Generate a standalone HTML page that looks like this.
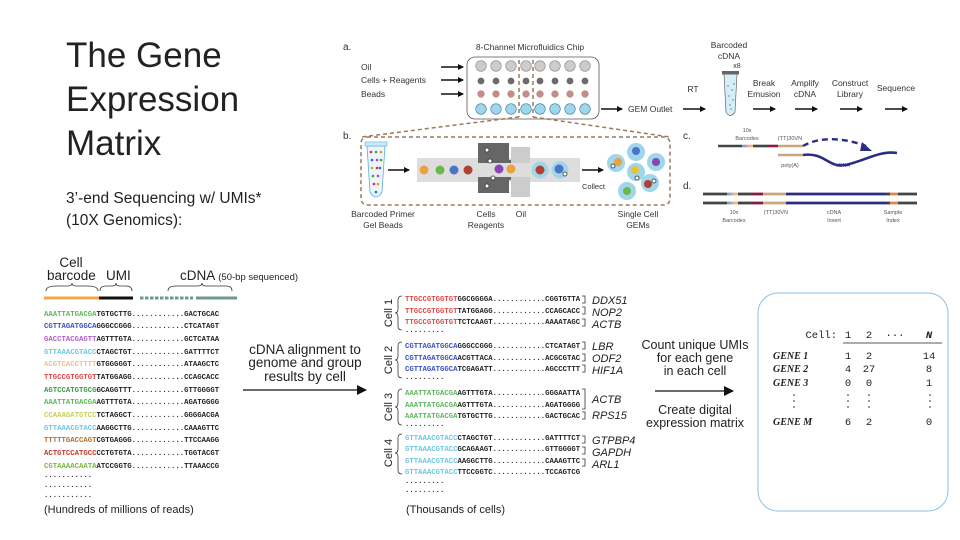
<!DOCTYPE html>
<html><head><meta charset="utf-8"><style>
html,body{margin:0;padding:0;background:#fff;}
svg{display:block;}
.s{font-family:"Liberation Sans",sans-serif;}
.m{font-family:"Liberation Mono",monospace;font-weight:bold;font-size:7.3px;}
.g{font-family:"Liberation Serif",serif;font-weight:bold;font-style:italic;font-size:10px;}
.mm{font-family:"Liberation Mono",monospace;font-size:10.5px;}
</style></head><body>
<svg width="960" height="540" viewBox="0 0 960 540" xmlns="http://www.w3.org/2000/svg">
<defs>
<marker id="ah" markerWidth="6" markerHeight="6" refX="5" refY="3" orient="auto" markerUnits="userSpaceOnUse"><path d="M0,0 L6,3 L0,6z" fill="#111"/></marker>
<marker id="ab" markerWidth="10" markerHeight="10" refX="9" refY="5" orient="auto" markerUnits="userSpaceOnUse"><path d="M0,0 L10,5 L0,10z" fill="#111"/></marker>
</defs>
<g class="s" fill="#222">
<text x="66" y="67" font-size="35">The Gene</text>
<text x="66" y="111" font-size="35">Expression</text>
<text x="66" y="155" font-size="35">Matrix</text>
<text x="66" y="203" font-size="15.5">3’-end Sequencing w/ UMIs*</text>
<text x="66" y="225" font-size="15.5">(10X Genomics):</text>
</g>

<!-- panel a -->
<g class="s" fill="#333" font-size="8.5">
<text x="343" y="50" font-size="10">a.</text>
<text x="530" y="50" text-anchor="middle">8-Channel Microfluidics Chip</text>
<text x="361" y="70">Oil</text>
<text x="361" y="83">Cells + Reagents</text>
<text x="361" y="97">Beads</text>
<text x="628" y="112">GEM Outlet</text>
<text x="693" y="92" text-anchor="middle">RT</text>
<text x="729" y="48" text-anchor="middle">Barcoded</text>
<text x="729" y="59" text-anchor="middle">cDNA</text>
<text x="737" y="68" text-anchor="middle" font-size="7">x8</text>
<text x="764" y="86" text-anchor="middle">Break</text>
<text x="764" y="97" text-anchor="middle">Emusion</text>
<text x="805" y="86" text-anchor="middle">Amplify</text>
<text x="805" y="97" text-anchor="middle">cDNA</text>
<text x="850" y="86" text-anchor="middle">Construct</text>
<text x="850" y="97" text-anchor="middle">Library</text>
<text x="896" y="91" text-anchor="middle">Sequence</text>
</g>
<g stroke="#111" stroke-width="1.6" marker-end="url(#ah)">
<line x1="441" y1="67" x2="463" y2="67"/><line x1="441" y1="80" x2="463" y2="80"/><line x1="441" y1="94" x2="463" y2="94"/>
<line x1="601" y1="109" x2="622" y2="109"/><line x1="683" y1="109" x2="705" y2="109"/>
<line x1="753" y1="109" x2="775" y2="109"/><line x1="795" y1="109" x2="817" y2="109"/>
<line x1="840" y1="109" x2="862" y2="109"/><line x1="885" y1="109" x2="907" y2="109"/>
</g>
<rect x="467" y="57" width="132" height="62" rx="8" fill="#fff" stroke="#555" stroke-width="0.8"/>
<g>
<g fill="#ccc" stroke="#888" stroke-width="0.6">
<circle cx="481" cy="66" r="5.3"/><circle cx="496" cy="66" r="5.3"/><circle cx="511" cy="66" r="5.3"/><circle cx="526" cy="66" r="5.3"/><circle cx="540" cy="66" r="5.3"/><circle cx="555" cy="66" r="5.3"/><circle cx="570" cy="66" r="5.3"/><circle cx="585" cy="66" r="5.3"/></g>
<g fill="#6b6b6b"><circle cx="481" cy="81" r="3.4"/><circle cx="496" cy="81" r="3.4"/><circle cx="511" cy="81" r="3.4"/><circle cx="526" cy="81" r="3.4"/><circle cx="540" cy="81" r="3.4"/><circle cx="555" cy="81" r="3.4"/><circle cx="570" cy="81" r="3.4"/><circle cx="585" cy="81" r="3.4"/></g>
<g fill="#c98a8a" stroke="#885" stroke-width="0.4"><circle cx="481" cy="94" r="3.4"/><circle cx="496" cy="94" r="3.4"/><circle cx="511" cy="94" r="3.4"/><circle cx="526" cy="94" r="3.4"/><circle cx="540" cy="94" r="3.4"/><circle cx="555" cy="94" r="3.4"/><circle cx="570" cy="94" r="3.4"/><circle cx="585" cy="94" r="3.4"/></g>
<g fill="#9fd6ea" stroke="#3a7fa5" stroke-width="0.6"><circle cx="481" cy="109" r="5.3"/><circle cx="496" cy="109" r="5.3"/><circle cx="511" cy="109" r="5.3"/><circle cx="526" cy="109" r="5.3"/><circle cx="540" cy="109" r="5.3"/><circle cx="555" cy="109" r="5.3"/><circle cx="570" cy="109" r="5.3"/><circle cx="585" cy="109" r="5.3"/></g>
</g>
<g stroke="#9a7a5a" stroke-width="1.5" stroke-dasharray="4,3" fill="none">
<line x1="519" y1="60" x2="519" y2="117"/><line x1="533" y1="60" x2="533" y2="117"/>
<line x1="519" y1="117" x2="361" y2="137"/><line x1="533" y1="117" x2="670" y2="137"/>
<rect x="361" y="137" width="309" height="68" rx="6"/>
</g>
<!-- tube a -->
<path d="M724,74 L737,74 L735,112 Q730,119 726,112 Z" fill="#d7eef7" stroke="#666" stroke-width="0.7"/>
<rect x="722" y="71" width="17" height="3.5" fill="#666"/>
<g fill="#5aa8d0"><circle cx="728" cy="86" r="0.9"/><circle cx="732" cy="90" r="0.9"/><circle cx="729" cy="96" r="0.9"/><circle cx="733" cy="100" r="0.9"/><circle cx="730" cy="105" r="0.9"/><circle cx="734" cy="84" r="0.9"/><circle cx="731" cy="109" r="0.9"/></g>

<!-- panel b -->
<text class="s" x="343" y="139" font-size="10" fill="#333">b.</text>
<path d="M367,146 L385,146 L382,192 Q376,202 370,192 Z" fill="#eaf6fb" stroke="#5ab0d8" stroke-width="0.8"/>
<rect x="365" y="142" width="22" height="4" fill="#cfe9f5" stroke="#5ab0d8" stroke-width="0.6"/>
<g>
<circle cx="371" cy="152" r="1.3" fill="#e25"/><circle cx="376" cy="152" r="1.3" fill="#3a3"/><circle cx="381" cy="152" r="1.3" fill="#e90"/>
<circle cx="372" cy="160" r="1.3" fill="#36c"/><circle cx="377" cy="160" r="1.3" fill="#c3c"/><circle cx="381" cy="160" r="1.3" fill="#3a3"/>
<circle cx="372" cy="168" r="1.3" fill="#e90"/><circle cx="377" cy="168" r="1.3" fill="#e25"/><circle cx="380" cy="168" r="1.3" fill="#36c"/>
<circle cx="373" cy="176" r="1.3" fill="#3a3"/><circle cx="378" cy="176" r="1.3" fill="#c3c"/>
<circle cx="374" cy="184" r="1.3" fill="#e25"/><circle cx="378" cy="184" r="1.3" fill="#e90"/>
<circle cx="376" cy="192" r="1.3" fill="#36c"/>
</g>
<line x1="388" y1="170" x2="409" y2="170" stroke="#111" stroke-width="1.6" marker-end="url(#ah)"/>
<rect x="417" y="158" width="163" height="24" fill="#ddd"/>
<path d="M478,143 L509,143 L509,160 L530,160 L530,180 L509,180 L509,193 L478,193 Z" fill="#666"/>
<rect x="511" y="147" width="19" height="50" fill="#ccc"/>
<rect x="478" y="163" width="60" height="14" fill="#ddd"/>
<g fill="#fff" stroke="#333" stroke-width="0.8"><circle cx="487" cy="150" r="2"/><circle cx="490" cy="161" r="2"/><circle cx="487" cy="186" r="2"/><circle cx="493" cy="178" r="2"/></g>
<circle cx="424" cy="170" r="4.5" fill="#e9a33a"/><circle cx="440" cy="170" r="4.5" fill="#6bb84a"/><circle cx="454" cy="170" r="4.5" fill="#4a74c9"/><circle cx="468" cy="170" r="4.5" fill="#b0402f"/>
<circle cx="499" cy="169" r="4.5" fill="#8a45b5"/><circle cx="511" cy="169" r="4.5" fill="#e9a33a"/>
<circle cx="540" cy="170" r="8.5" fill="#9fd6ea"/><circle cx="540" cy="170" r="4.5" fill="#b0402f"/>
<circle cx="560" cy="170" r="8.5" fill="#9fd6ea"/><circle cx="559" cy="169" r="4.5" fill="#4a74c9"/><circle cx="565" cy="174" r="2" fill="#fff" stroke="#333" stroke-width="0.8"/>
<line x1="582" y1="170" x2="603" y2="170" stroke="#111" stroke-width="1.6" marker-end="url(#ah)"/>
<text class="s" x="582" y="189" font-size="7.5" fill="#333">Collect</text>
<g>
<circle cx="616" cy="163" r="9" fill="#9fd6ea"/><circle cx="618" cy="162" r="4" fill="#e9a33a"/><circle cx="613" cy="166" r="2" fill="#fff" stroke="#333" stroke-width="0.8"/>
<circle cx="636" cy="152" r="9" fill="#9fd6ea"/><circle cx="636" cy="151" r="4" fill="#4a74c9"/>
<circle cx="656" cy="162" r="9" fill="#9fd6ea"/><circle cx="656" cy="162" r="4" fill="#8a45b5"/>
<circle cx="636" cy="172" r="9" fill="#9fd6ea"/><circle cx="635" cy="170" r="4" fill="#e9c23a"/><circle cx="637" cy="178" r="2" fill="#fff" stroke="#333" stroke-width="0.8"/>
<circle cx="650" cy="183" r="9" fill="#9fd6ea"/><circle cx="648" cy="184" r="4" fill="#b0402f"/><circle cx="654" cy="181" r="2" fill="#fff" stroke="#333" stroke-width="0.8"/>
<circle cx="627" cy="191" r="9" fill="#9fd6ea"/><circle cx="627" cy="191" r="4" fill="#6bb84a"/>
</g>
<g class="s" fill="#333" font-size="8.5" text-anchor="middle">
<text x="383" y="217">Barcoded Primer</text><text x="383" y="228">Gel Beads</text>
<text x="486" y="217">Cells</text><text x="486" y="228">Reagents</text>
<text x="521" y="217">Oil</text>
<text x="638" y="217">Single Cell</text><text x="638" y="228">GEMs</text>
</g>

<!-- panel c -->
<text class="s" x="683" y="139" font-size="10" fill="#333">c.</text>
<g class="s" fill="#555" font-size="5.5" text-anchor="middle">
<text x="747" y="132">10x</text><text x="747" y="140">Barcodes</text>
<text x="790" y="140">(TT)30VN</text>
<text x="790" y="167">poly(A)</text><text x="843" y="167">cDNA</text>
</g>
<g stroke-width="2.6">
<line x1="718" y1="146" x2="742" y2="146" stroke="#444"/>
<line x1="742" y1="146" x2="746" y2="146" stroke="#7ab"/><line x1="746" y1="146" x2="749" y2="146" stroke="#e9a"/><line x1="749" y1="146" x2="753" y2="146" stroke="#eb7"/>
<line x1="753" y1="146" x2="767" y2="146" stroke="#444"/>
<line x1="767" y1="146" x2="778" y2="146" stroke="#8a1a4a"/>
<line x1="778" y1="146" x2="803" y2="146" stroke="#c9a77c"/>
<line x1="778" y1="155" x2="803" y2="155" stroke="#c9a77c"/>
</g>
<path d="M803,155 C825,152 828,168 845,165 C862,162 880,150 897,153" fill="none" stroke="#2b2d84" stroke-width="2.6"/>
<path d="M803,146 C820,136 845,138 866,146" fill="none" stroke="#2b2d84" stroke-width="2.4" stroke-dasharray="6,4"/>
<path d="M862,142 L872,151 L860,151 Z" fill="#2b2d84"/>

<!-- panel d -->
<text class="s" x="683" y="189" font-size="10" fill="#333">d.</text>
<g stroke-width="2.8">
<g id="bar">
<line x1="703" y1="194" x2="727" y2="194" stroke="#444"/>
<line x1="727" y1="194" x2="731" y2="194" stroke="#7ab"/><line x1="731" y1="194" x2="734" y2="194" stroke="#e9a"/><line x1="734" y1="194" x2="738" y2="194" stroke="#eb7"/>
<line x1="738" y1="194" x2="752" y2="194" stroke="#444"/>
<line x1="752" y1="194" x2="763" y2="194" stroke="#8a1a4a"/>
<line x1="763" y1="194" x2="786" y2="194" stroke="#c9a77c"/>
<line x1="786" y1="194" x2="887" y2="194" stroke="#2b2d84"/>
<line x1="887" y1="194" x2="890" y2="194" stroke="#444"/>
<line x1="890" y1="194" x2="898" y2="194" stroke="#d98a4a"/>
<line x1="898" y1="194" x2="917" y2="194" stroke="#444"/>
</g>
<use href="#bar" y="9"/>
</g>
<g class="s" fill="#555" font-size="5.5" text-anchor="middle">
<text x="734" y="214">10x</text><text x="734" y="222">Barcodes</text>
<text x="776" y="214">(TT)30VN</text>
<text x="834" y="214">cDNA</text><text x="834" y="222">Insert</text>
<text x="893" y="214">Sample</text><text x="893" y="222">Index</text>
</g>

<!-- bottom left -->
<g class="s" fill="#222">
<text x="71" y="267" font-size="13.5" text-anchor="middle">Cell</text>
<text x="47" y="280" font-size="13.5">barcode</text>
<text x="106" y="280" font-size="13.5">UMI</text>
<text x="180" y="280" font-size="13.5">cDNA <tspan font-size="9.5">(50-bp sequenced)</tspan></text>
</g>
<g fill="none" stroke="#333" stroke-width="0.8">
<path d="M46,291 Q46,286 56,286 L68,286 Q72,286 72,283 Q72,286 76,286 L88,286 Q98,286 98,291"/>
<path d="M100,291 Q100,286 106,286 L112,286 Q116,286 116,283 Q116,286 120,286 L126,286 Q132,286 132,291"/>
<path d="M168,291 Q168,286 176,286 L198,286 Q202,286 202,283 Q202,286 206,286 L226,286 Q232,286 232,291"/>
</g>
<line x1="44" y1="298" x2="99" y2="298" stroke="#f0a84a" stroke-width="3"/>
<line x1="99" y1="298" x2="133" y2="298" stroke="#111" stroke-width="3"/>
<line x1="140" y1="298" x2="193" y2="298" stroke="#6b9a92" stroke-width="3" stroke-dasharray="3.5,1.5"/>
<line x1="196" y1="298" x2="237" y2="298" stroke="#6b9a92" stroke-width="3"/>
<g class="m" fill="#222">
<text x="44" y="316"><tspan fill="#5cb85c">AAATTATGACGA</tspan>TGTGCTTG............GACTGCAC</text>
<text x="44" y="328"><tspan fill="#3a4fc4">CGTTAGATGGCA</tspan>GGGCCGGG............CTCATAGT</text>
<text x="44" y="341"><tspan fill="#b25fd0">GACCTACGAGTT</tspan>AGTTTGTA............GCTCATAA</text>
<text x="44" y="354"><tspan fill="#6cc8e0">GTTAAACGTACC</tspan>CTAGCTGT............GATTTTCT</text>
<text x="44" y="366"><tspan fill="#f0c090">ACGTCACCTTTT</tspan>GTGGGGGT............ATAAGCTC</text>
<text x="44" y="379"><tspan fill="#e04848">TTGCCGTGGTGT</tspan>TATGGAGG............CCAGCACC</text>
<text x="44" y="392"><tspan fill="#3a9a48">AGTCCATGTGCG</tspan>GCAGGTTT............GTTGGGGT</text>
<text x="44" y="404"><tspan fill="#5cb85c">AAATTATGACGA</tspan>AGTTTGTA............AGATGGGG</text>
<text x="44" y="417"><tspan fill="#c8d050">CCAAAGATGTCC</tspan>TCTAGGCT............GGGGACGA</text>
<text x="44" y="430"><tspan fill="#6cc8e0">GTTAAACGTACC</tspan>AAGGCTTG............CAAAGTTC</text>
<text x="44" y="442"><tspan fill="#b07030">TTTTTGACCAGT</tspan>CGTGAGGG............TTCCAAGG</text>
<text x="44" y="455"><tspan fill="#c03a2a">ACTGTCCATGCC</tspan>CCTGTGTA............TGGTACGT</text>
<text x="44" y="468"><tspan fill="#78b83a">CGTAAAACAATA</tspan>ATCCGGTG............TTAAACCG</text>
<text x="44" y="477">...........</text>
<text x="44" y="487">...........</text>
<text x="44" y="497">...........</text>
</g>
<text class="s" x="44" y="513" font-size="11" fill="#222">(Hundreds of millions of reads)</text>
<g class="s" fill="#222" font-size="13.5" text-anchor="middle">
<text x="305" y="354">cDNA alignment to</text>
<text x="305" y="367">genome and group</text>
<text x="305" y="381">results by cell</text>
</g>
<line x1="243" y1="390" x2="366" y2="390" stroke="#111" stroke-width="1.2" marker-end="url(#ab)"/>

<!-- cells -->
<g class="s" fill="#222" font-size="11">
<text transform="translate(392,313) rotate(-90)" text-anchor="middle">Cell 1</text>
<text transform="translate(392,360) rotate(-90)" text-anchor="middle">Cell 2</text>
<text transform="translate(392,407) rotate(-90)" text-anchor="middle">Cell 3</text>
<text transform="translate(392,453) rotate(-90)" text-anchor="middle">Cell 4</text>
</g>
<g fill="none" stroke="#333" stroke-width="0.8">
<path d="M402,296 Q398,296 398,300 L398,309 Q398,313 395,313 Q398,313 398,317 L398,326 Q398,330 402,330"/>
<path d="M402,342 Q398,342 398,346 L398,356 Q398,360 395,360 Q398,360 398,364 L398,374 Q398,378 402,378"/>
<path d="M402,389 Q398,389 398,393 L398,403 Q398,407 395,407 Q398,407 398,411 L398,421 Q398,425 402,425"/>
<path d="M402,434 Q398,434 398,438 L398,449 Q398,453 395,453 Q398,453 398,457 L398,470 Q398,474 402,474"/>
</g>
<g class="m" fill="#222" font-size="6.5">
<text x="405" y="301"><tspan fill="#e04848">TTGCCGTGGTGT</tspan>GGCGGGGA............CGGTGTTA</text>
<text x="405" y="313"><tspan fill="#e04848">TTGCCGTGGTGT</tspan>TATGGAGG............CCAGCACC</text>
<text x="405" y="324"><tspan fill="#e04848">TTGCCGTGGTGT</tspan>TCTCAAGT............AAAATAGC</text>
<text x="405" y="332">.........</text>
<text x="405" y="348"><tspan fill="#3a4fc4">CGTTAGATGGCA</tspan>GGGCCGGG............CTCATAGT</text>
<text x="405" y="360"><tspan fill="#3a4fc4">CGTTAGATGGCA</tspan>ACGTTACA............ACGCGTAC</text>
<text x="405" y="371"><tspan fill="#3a4fc4">CGTTAGATGGCA</tspan>TCGAGATT............AGCCCTTT</text>
<text x="405" y="379">.........</text>
<text x="405" y="395"><tspan fill="#5cb85c">AAATTATGACGA</tspan>AGTTTGTA............GGGAATTA</text>
<text x="405" y="407"><tspan fill="#5cb85c">AAATTATGACGA</tspan>AGTTTGTA............AGATGGGG</text>
<text x="405" y="418"><tspan fill="#5cb85c">AAATTATGACGA</tspan>TGTGCTTG............GACTGCAC</text>
<text x="405" y="426">.........</text>
<text x="405" y="440"><tspan fill="#6cc8e0">GTTAAACGTACC</tspan>CTAGCTGT............GATTTTCT</text>
<text x="405" y="451"><tspan fill="#6cc8e0">GTTAAACGTACC</tspan>GCAGAAGT............GTTGGGGT</text>
<text x="405" y="463"><tspan fill="#6cc8e0">GTTAAACGTACC</tspan>AAGGCTTG............CAAAGTTC</text>
<text x="405" y="474"><tspan fill="#6cc8e0">GTTAAACGTACC</tspan>TTCCGGTC............TCCAGTCG</text>
<text x="405" y="483">.........</text>
<text x="405" y="492">.........</text>
</g>
<text class="s" x="406" y="513" font-size="11" fill="#222">(Thousands of cells)</text>
<g fill="none" stroke="#333" stroke-width="0.8">
<path d="M582,296 L585,296 L585,303 L582,303"/><path d="M582,307 L585,307 L585,314 L582,314"/><path d="M582,319 L585,319 L585,326 L582,326"/>
<path d="M582,342 L585,342 L585,349 L582,349"/><path d="M582,354 L585,354 L585,361 L582,361"/><path d="M582,365 L585,365 L585,372 L582,372"/>
<path d="M582,389 L585,389 L585,409 L582,409"/><path d="M582,412 L585,412 L585,419 L582,419"/>
<path d="M582,436 L585,436 L585,443 L582,443"/><path d="M582,447 L585,447 L585,454 L582,454"/><path d="M582,459 L585,459 L585,466 L582,466"/>
</g>
<g class="s" fill="#222" font-size="11" font-style="italic">
<text x="592" y="304">DDX51</text><text x="592" y="316">NOP2</text><text x="592" y="328">ACTB</text>
<text x="592" y="350">LBR</text><text x="592" y="362">ODF2</text><text x="592" y="374">HIF1A</text>
<text x="592" y="403">ACTB</text><text x="592" y="419">RPS15</text>
<text x="592" y="444">GTPBP4</text><text x="592" y="456">GAPDH</text><text x="592" y="468">ARL1</text>
</g>
<g class="s" fill="#222" font-size="12.5" text-anchor="middle">
<text x="695" y="349">Count unique UMIs</text>
<text x="695" y="362">for each gene</text>
<text x="695" y="375">in each cell</text>
<text x="695" y="414">Create digital</text>
<text x="695" y="427">expression matrix</text>
</g>
<line x1="655" y1="391" x2="733" y2="391" stroke="#111" stroke-width="1.2" marker-end="url(#ab)"/>

<!-- matrix -->
<rect x="758" y="293" width="190" height="218" rx="20" fill="#fff" stroke="#8cc2e6" stroke-width="1"/>
<g class="mm" fill="#222">
<text x="837" y="338" text-anchor="end">Cell:</text>
<text x="848" y="338" text-anchor="middle">1</text>
<text x="869" y="338" text-anchor="middle">2</text>
<text x="895" y="338" text-anchor="middle">···</text>
<text x="929" y="338" text-anchor="middle" font-weight="bold" font-style="italic">N</text>
<text x="848" y="359" text-anchor="middle">1</text><text x="869" y="359" text-anchor="middle">2</text><text x="929" y="359" text-anchor="middle">14</text>
<text x="848" y="372" text-anchor="middle">4</text><text x="869" y="372" text-anchor="middle">27</text><text x="929" y="372" text-anchor="middle">8</text>
<text x="848" y="386" text-anchor="middle">0</text><text x="869" y="386" text-anchor="middle">0</text><text x="929" y="386" text-anchor="middle">1</text>
<text x="848" y="425" text-anchor="middle">6</text><text x="869" y="425" text-anchor="middle">2</text><text x="929" y="425" text-anchor="middle">0</text>
</g>
<line x1="843" y1="343" x2="942" y2="343" stroke="#222" stroke-width="0.8"/>
<g class="g" fill="#222">
<text x="773" y="359">GENE 1</text><text x="773" y="372">GENE 2</text><text x="773" y="386">GENE 3</text><text x="773" y="425">GENE M</text>
</g>
<g fill="#222">
<circle cx="794" cy="395" r="0.8"/><circle cx="794" cy="401" r="0.8"/><circle cx="794" cy="407" r="0.8"/>
<circle cx="848" cy="395" r="0.8"/><circle cx="848" cy="401" r="0.8"/><circle cx="848" cy="407" r="0.8"/>
<circle cx="869" cy="395" r="0.8"/><circle cx="869" cy="401" r="0.8"/><circle cx="869" cy="407" r="0.8"/>
<circle cx="930" cy="395" r="0.8"/><circle cx="930" cy="401" r="0.8"/><circle cx="930" cy="407" r="0.8"/>
</g>
</svg>
</body></html>
